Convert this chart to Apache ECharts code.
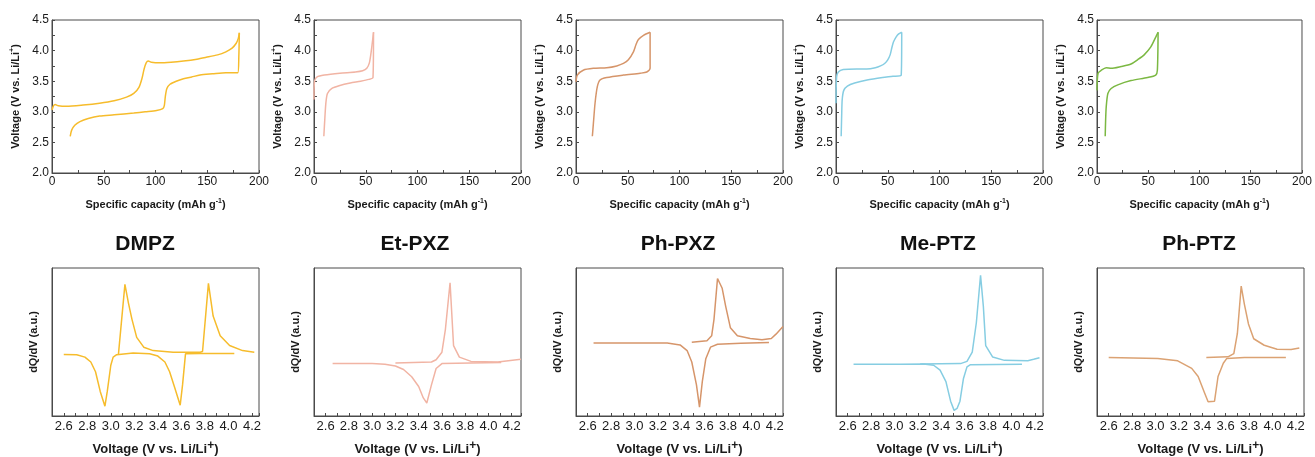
<!DOCTYPE html>
<html><head><meta charset="utf-8">
<script src="https://cdn.jsdelivr.net/npm/echarts@6/dist/echarts.min.js"></script>
<style>html,body{margin:0;padding:0;background:#fff}#c{width:1315px;height:457px}</style>
</head><body><div id="c"></div>
<script>
// ---- names, colours ----
const names = ['DMPZ', 'Et-PXZ', 'Ph-PXZ', 'Me-PTZ', 'Ph-PTZ'];
const topColors = ['#F6BC2C', '#F1B4A4', '#D6956A', '#86CDE2', '#7BB842'];
const botColors = ['#F6BC2C', '#F1B4A4', '#D6956A', '#86CDE2', '#DBA273'];

// ---- tick settings ----
const capTicks = [0, 50, 100, 150, 200];
const voltTicks = [2.0, 2.5, 3.0, 3.5, 4.0, 4.5];
const dqMin = [2.5, 2.5, 2.5, 2.5, 2.5];
const dqMax = [4.26, 4.28, 4.27, 4.27, 4.27];

// ---- charge/discharge curves (capacity mAh/g, voltage V) ----
const dmpzCharge = [[0,3.03],[1.5,3.1],[3,3.12],[6,3.1],[14,3.09],[30,3.11],[46,3.14],[60,3.18],[72,3.24],[79,3.3],[84,3.4],[87,3.55],[89,3.7],[91,3.8],[93,3.83],[96,3.81],[104,3.8],[115,3.81],[127,3.83],[140,3.86],[149,3.89],[160,3.93],[168,3.98],[174,4.04],[178,4.12],[180,4.2],[181,4.29]];
const dmpzDischarge = [[181,4.29],[180.5,3.9],[179.5,3.64],[175,3.64],[168,3.64],[155,3.62],[143,3.6],[135,3.57],[127,3.54],[120,3.5],[114,3.45],[111,3.38],[109.5,3.25],[108.5,3.1],[107,3.05],[101,3.02],[90,3.0],[79,2.98],[60,2.95],[46,2.93],[35,2.89],[27,2.84],[22,2.78],[19,2.7],[17.6,2.6]];
const etCharge = [[0,3.2],[0.5,3.5],[3,3.57],[10,3.6],[25,3.63],[40,3.65],[47,3.67],[51,3.71],[53.5,3.8],[55,3.95],[56.5,4.15],[57.5,4.3]];
const etDischarge = [[57.5,4.3],[57,3.56],[53,3.53],[45,3.5],[35,3.47],[25,3.43],[17,3.38],[13,3.3],[11.5,3.15],[10.5,2.9],[9.5,2.6]];
const phpxzCharge = [[0,3.49],[1.3,3.6],[7,3.68],[16.8,3.71],[29.7,3.72],[39.4,3.75],[45.8,3.79],[50.6,3.85],[55.5,3.98],[58,4.1],[60.3,4.18],[65.2,4.25],[71.6,4.3]];
const phpxzDischarge = [[71.6,4.3],[71.6,3.71],[68.4,3.65],[62,3.63],[45.8,3.6],[29.7,3.56],[23.2,3.52],[20.6,3.41],[18.4,3.14],[16.8,2.81],[15.8,2.6]];
const meptzCharge = [[0,3.14],[0.6,3.57],[2.3,3.65],[7,3.69],[20,3.7],[29.7,3.7],[38,3.72],[43,3.75],[47,3.79],[50,3.85],[52.3,3.93],[54,4.05],[55.5,4.14],[58,4.22],[60.3,4.27],[63.5,4.3]];
const meptzDischarge = [[63.5,4.3],[63,3.6],[55,3.58],[45,3.56],[30,3.52],[18,3.47],[11,3.42],[7.5,3.35],[6,3.2],[5.5,2.95],[5,2.6]];
const phptzCharge = [[0,3.35],[1,3.63],[4.2,3.68],[9,3.72],[13.8,3.71],[23.5,3.74],[33.2,3.78],[39.6,3.85],[46,3.93],[52.5,4.06],[57.3,4.22],[59.6,4.3]];
const phptzDischarge = [[59.6,4.3],[58.9,3.68],[57.3,3.6],[49.3,3.56],[33.2,3.51],[20.3,3.44],[13.8,3.38],[10.6,3.3],[9,3.08],[8.4,2.86],[8,2.6]];

// ---- dQ/dV curves (voltage V, arbitrary units) ----
const dmpzOx = [[3.065,41.8],[3.12,88.9],[3.15,76.3],[3.18,65.3],[3.22,53.1],[3.28,46.5],[3.36,44.2],[3.53,43.1],[3.76,43.1],[3.78,43.6],[3.83,89.6],[3.87,67.5],[3.93,54.2],[4.01,47.6],[4.12,44.2],[4.22,43.1]];
const dmpzRed = [[4.05,42.3],[3.76,42.3],[3.635,42],[3.61,21],[3.59,7.3],[3.545,18.8],[3.5,29.9],[3.46,36.5],[3.4,40.5],[3.33,42],[3.19,42.5],[3.05,41.4],[3.02,39.8],[3.0,34.3],[2.97,16.6],[2.95,6.6],[2.91,16.6],[2.87,29.9],[2.83,36.5],[2.78,39.8],[2.71,41.4],[2.6,41.6]];
const etOx = [[3.2,35.8],[3.51,36.5],[3.55,38],[3.6,43.1],[3.63,58.6],[3.67,90],[3.7,47.6],[3.75,39.8],[3.85,36.9],[4.08,36.5],[4.28,38.3]];
const etRed = [[4.11,36.1],[3.85,35.8],[3.6,35.4],[3.55,32.1],[3.51,21],[3.47,8.8],[3.44,12.2],[3.4,19.9],[3.34,26.5],[3.27,31.4],[3.2,33.8],[3.11,35],[3.0,35.4],[2.66,35.4]];
const phpxzOx = [[3.49,49.8],[3.62,50.9],[3.66,54.2],[3.68,65.3],[3.71,92.9],[3.75,86.3],[3.78,74.1],[3.82,59.7],[3.88,54.2],[3.99,52.4],[4.09,51.5],[4.17,52.4],[4.21,55.3],[4.27,60.4]];
const phpxzRed = [[4.15,49.6],[3.91,49.1],[3.71,48.5],[3.65,46.5],[3.61,38.7],[3.58,23.2],[3.556,6],[3.53,21],[3.49,36.5],[3.45,44.2],[3.39,48],[3.28,49.3],[3.05,49.3],[2.65,49.3]];
const meptzOx = [[3.22,35.2],[3.565,35.4],[3.62,36.9],[3.665,43.1],[3.7,63],[3.736,95.1],[3.76,74.1],[3.78,47.6],[3.84,39.8],[3.94,37.6],[4.14,37.4],[4.19,38.3],[4.24,39.4]];
const meptzRed = [[4.09,35],[3.65,34.7],[3.62,33.2],[3.59,25.4],[3.56,10],[3.535,5.1],[3.51,3.8],[3.48,10],[3.44,23.2],[3.39,31],[3.335,34.3],[3.25,35.2],[3.05,35],[2.65,35]];
const phptzOx = [[3.435,39.6],[3.62,40],[3.67,42.2],[3.7,55.6],[3.733,87.8],[3.76,75.6],[3.795,62.2],[3.84,52.2],[3.93,47.8],[4.04,45.1],[4.16,44.9],[4.23,46]];
const phptzRed = [[4.115,39.6],[3.76,39.6],[3.61,38.9],[3.58,35.6],[3.535,26.7],[3.505,10],[3.45,9.6],[3.42,15.6],[3.365,26.7],[3.31,32.2],[3.19,37.3],[3.02,38.9],[2.6,39.6]];

const chargeSets = [[dmpzCharge, dmpzDischarge],[etCharge, etDischarge],[phpxzCharge, phpxzDischarge],[meptzCharge, meptzDischarge],[phptzCharge, phptzDischarge]];
const dqSets = [[dmpzOx, dmpzRed],[etOx, etRed],[phpxzOx, phpxzRed],[meptzOx, meptzRed],[phptzOx, phptzRed]];

// ---- layout ----
const lefts = [52, 314, 576, 836, 1097];
const panelW = 207;
const titleX = [145, 415, 678, 938, 1199];

const axisColor = '#4a4a4a';
const textColor = '#1a1a1a';
const font = 'Arial, "Liberation Sans", sans-serif';

const grids = [], xAxes = [], yAxes = [], series = [], graphics = [];

for (let i = 0; i < 5; i++) {
  // top grid
  grids.push({left: lefts[i], top: 20, width: panelW, height: 153, show: true, borderColor: axisColor, borderWidth: 1, backgroundColor: 'transparent'});
  // bottom grid
  grids.push({left: lefts[i], top: 268, width: panelW, height: 150, show: true, borderColor: axisColor, borderWidth: 1, backgroundColor: 'transparent'});
  const gt = 2 * i, gb = 2 * i + 1;

  xAxes.push({
    gridIndex: gt, type: 'value', min: capTicks[0], max: capTicks[capTicks.length - 1], interval: 50,
    axisLine: {show: true, lineStyle: {color: axisColor, width: 1}},
    axisTick: {show: true, inside: true, length: 3, lineStyle: {color: axisColor}},
    minorTick: {show: true, splitNumber: 2, length: 3, lineStyle: {color: axisColor}},
    splitLine: {show: false},
    axisLabel: {color: textColor, fontSize: 12, fontFamily: font, margin: 3},
    name: 'Specific capacity (mAh g{s|-1})', nameLocation: 'middle', nameGap: 25,
    nameTextStyle: {color: textColor, fontSize: 11, fontWeight: 'bold', fontFamily: font,
      rich: {s: {fontSize: 7, fontWeight: 'bold', fontFamily: font, color: textColor, padding: [0, 0, 7, 0]}}}
  });
  yAxes.push({
    gridIndex: gt, type: 'value', min: voltTicks[0], max: voltTicks[voltTicks.length - 1], interval: 0.5,
    axisLine: {show: true, lineStyle: {color: axisColor, width: 1}},
    axisTick: {show: true, inside: true, length: 3, lineStyle: {color: axisColor}},
    minorTick: {show: true, splitNumber: 2, length: 3, lineStyle: {color: axisColor}},
    splitLine: {show: false},
    axisLabel: {color: textColor, fontSize: 12, fontFamily: font, margin: 3, formatter: v => v.toFixed(1)},
    name: 'Voltage (V vs. Li/Li{s|+})', nameLocation: 'middle', nameGap: 29,
    nameTextStyle: {color: textColor, fontSize: 11, fontWeight: 'bold', fontFamily: font,
      rich: {s: {fontSize: 7, fontWeight: 'bold', fontFamily: font, color: textColor, padding: [0, 0, 7, 0]}}}
  });
  xAxes.push({
    gridIndex: gb, type: 'value', min: dqMin[i], max: dqMax[i], interval: 0.1,
    axisLine: {show: true, lineStyle: {color: axisColor, width: 1}},
    axisTick: {show: true, inside: true, length: 3, lineStyle: {color: axisColor}},
    splitLine: {show: false},
    axisLabel: {color: textColor, fontSize: 13, fontFamily: font, margin: 4, showMinLabel: true, showMaxLabel: true,
      formatter: v => { const k = Math.round(v * 10); return (Math.abs(v * 10 - k) < 1e-6 && k % 2 === 0) ? (k / 10).toFixed(1) : ''; }},
    name: 'Voltage (V vs. Li/Li{s|+})', nameLocation: 'middle', nameGap: 24,
    nameTextStyle: {color: textColor, fontSize: 13, fontWeight: 'bold', fontFamily: font,
      rich: {s: {fontSize: 12, fontWeight: 'bold', fontFamily: font, color: textColor, padding: [0, 0, 7, 0]}}}
  });
  yAxes.push({
    gridIndex: gb, type: 'value', min: 0, max: 100,
    axisLine: {show: true, lineStyle: {color: axisColor, width: 1}},
    axisTick: {show: false}, axisLabel: {show: false}, splitLine: {show: false},
    name: 'dQ/dV (a.u.)', nameLocation: 'middle', nameGap: 13,
    nameTextStyle: {color: textColor, fontSize: 11, fontWeight: 'bold', fontFamily: font}
  });

  const [ch, dis] = chargeSets[i];
  [ch, dis].forEach(d => series.push({type: 'line', xAxisIndex: gt, yAxisIndex: gt, data: d, showSymbol: false, symbol: 'none', smooth: 0.25,
    lineStyle: {color: topColors[i], width: 1.5}, animation: false}));
  const [ox, red] = dqSets[i];
  [ox, red].forEach(d => series.push({type: 'line', xAxisIndex: gb, yAxisIndex: gb, data: d, showSymbol: false, symbol: 'none',
    lineStyle: {color: botColors[i], width: 1.5}, animation: false}));

  graphics.push({type: 'text', x: titleX[i], y: 244,
    style: {text: names[i], font: 'bold 21px Arial, "Liberation Sans", sans-serif', fill: '#111',
      textAlign: 'center', textVerticalAlign: 'middle', align: 'center', verticalAlign: 'middle'}});
}

const chart = echarts.init(document.getElementById('c'), null, {renderer: 'canvas'});
chart.setOption({animation: false, grid: grids, xAxis: xAxes, yAxis: yAxes, series: series, graphic: graphics});
</script></body></html>
